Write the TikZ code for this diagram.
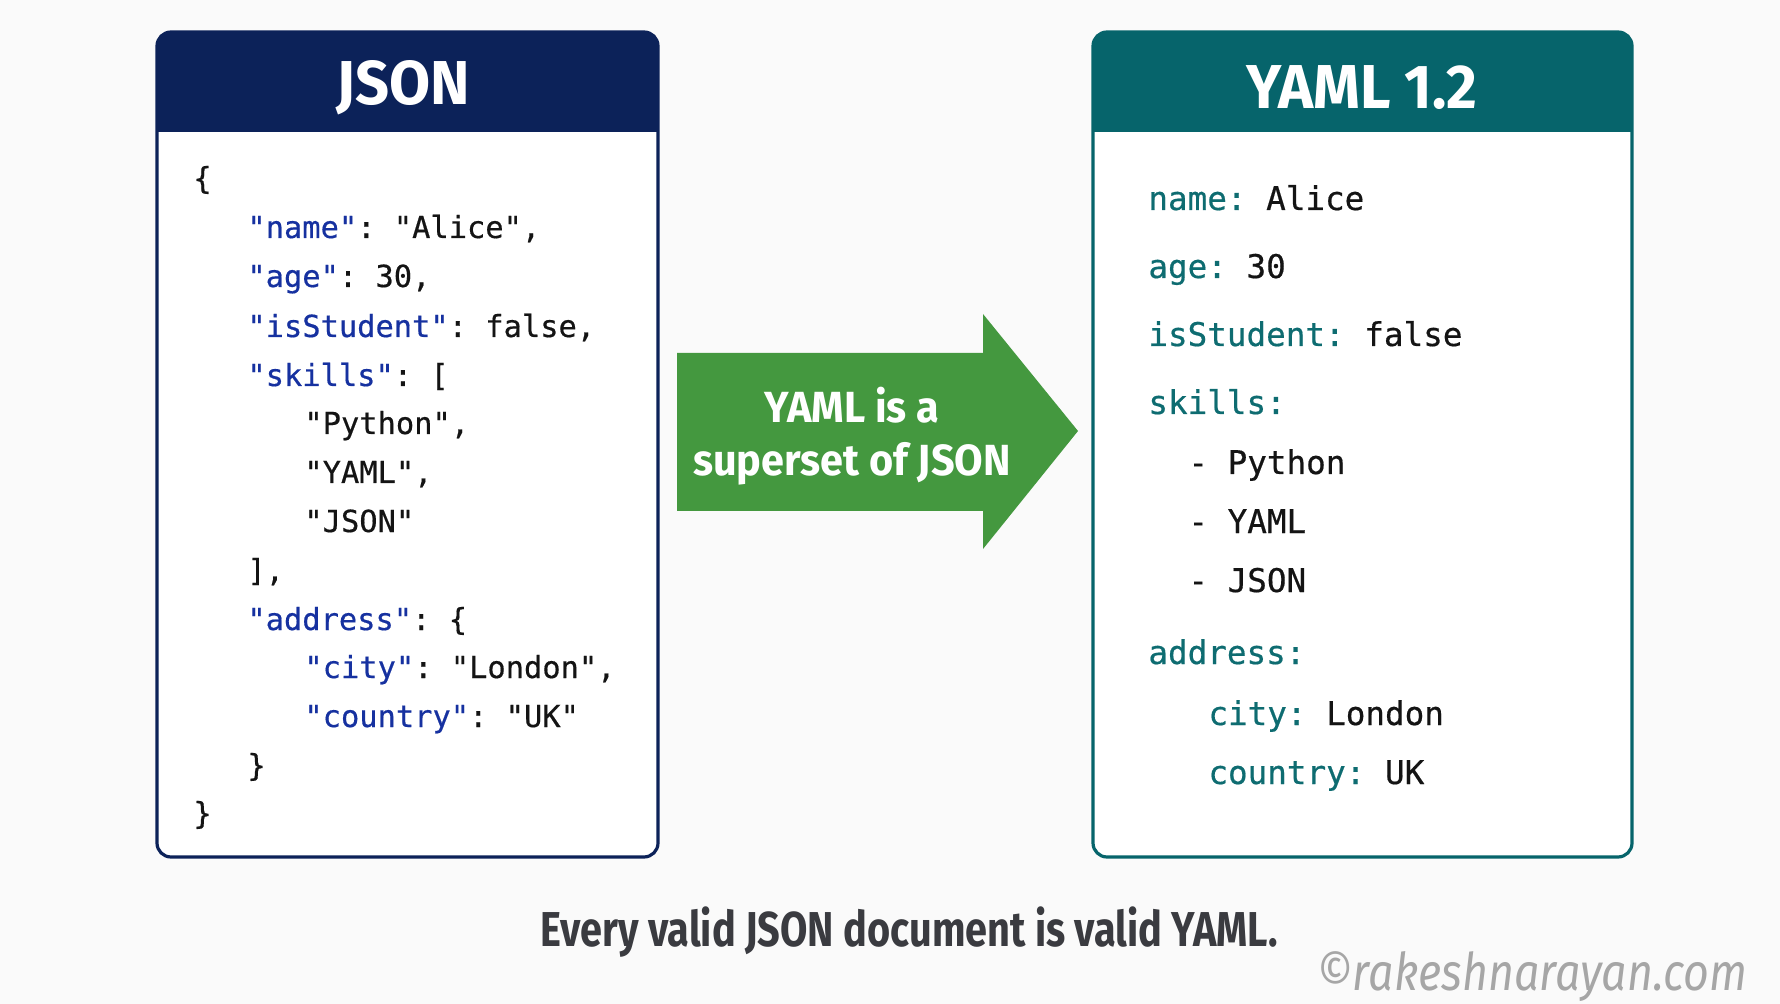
\documentclass[tikz,border=0pt]{standalone}
\usepackage{fontspec}
\setmainfont{Fira Sans}
\setmonofont[FakeBold=0.5]{DejaVu Sans Mono}
\newfontfamily\titlefont[FakeStretch=0.96]{Fira Sans}
\newfontfamily\arrowfont[FakeStretch=0.95]{Fira Sans}
\newfontfamily\capfont[FakeStretch=0.81]{Fira Sans}
\newfontfamily\wmfont[FakeStretch=0.86]{Fira Sans}
\definecolor{bg}{HTML}{FAFAFA}
\definecolor{navy}{HTML}{0C2259}
\definecolor{teal}{HTML}{06646B}
\definecolor{jkey}{HTML}{1631A0}
\definecolor{ykey}{HTML}{0E6C71}
\definecolor{val}{HTML}{141414}
\definecolor{grn}{HTML}{44983F}
\definecolor{captxt}{HTML}{3A3B40}
\definecolor{wm}{HTML}{A6A6A6}
\newcommand\jk[1]{\textcolor{jkey}{#1}}
\newcommand\yk[1]{\textcolor{ykey}{#1}}
\tikzset{
  x=0.5pt, y=-0.5pt,
  jline/.style={anchor=base west, inner sep=0pt, text=val, font=\ttfamily\fontsize{15.2}{18}\selectfont},
  yline/.style={anchor=base west, inner sep=0pt, text=val, font=\ttfamily\fontsize{16.3}{19}\selectfont},
  title/.style={inner sep=0pt, text=white, font=\titlefont\bfseries\fontsize{31}{36}\selectfont},
  panel/.style={line width=1.6pt, rounded corners=7pt},
}
\begin{document}
\begin{tikzpicture}
\fill[bg] (0,0) rectangle (1780,1004);
\useasboundingbox (0,0) rectangle (1780,1004);

% JSON panel
\fill[white, rounded corners=7pt] (157,32) rectangle (658,857);
\begin{scope}
  \clip (140,20) rectangle (680,132);
  \fill[navy, rounded corners=7pt] (157,32) rectangle (658,857);
\end{scope}
\draw[panel, navy] (157,32) rectangle (658,857);
\node[title] (jtitle) at (403,88) {JSON};

% YAML panel
\fill[white, rounded corners=7pt] (1093,32) rectangle (1632,857);
\begin{scope}
  \clip (1080,20) rectangle (1650,132);
  \fill[teal, rounded corners=7pt] (1093,32) rectangle (1632,857);
\end{scope}
\draw[panel, teal] (1093,32) rectangle (1632,857);
\node[title] (ytitle) at (1362,88) {YAML 1.2};

% JSON code
\node[jline] (j1) at (193,189) {\{};
\node[jline] (j2) at (247,238) {\jk{"name"}: "Alice",};
\node[jline] (j3) at (247,287) {\jk{"age"}: 30,};
\node[jline] (j4) at (247,337) {\jk{"isStudent"}: false,};
\node[jline] (j5) at (247,386) {\jk{"skills"}: [};
\node[jline] (j6) at (304,434) {"Python",};
\node[jline] (j7) at (304,483) {"YAML",};
\node[jline] (j8) at (304,532) {"JSON"};
\node[jline] (j9) at (247,581) {],};
\node[jline] (j10) at (247,630) {\jk{"address"}: \{};
\node[jline] (j11) at (304,678) {\jk{"city"}: "London",};
\node[jline] (j12) at (304,727) {\jk{"country"}: "UK"};
\node[jline] (j13) at (247,776) {\}};
\node[jline] (j14) at (193,824) {\}};

% YAML code
\node[yline] (y1) at (1148,210) {\yk{name:} Alice};
\node[yline] (y2) at (1148,278) {\yk{age:} 30};
\node[yline] (y3) at (1148,346) {\yk{isStudent:} false};
\node[yline] (y4) at (1148,414) {\yk{skills:}};
\node[yline] (y5) at (1188,474) {- Python};
\node[yline] (y6) at (1188,533) {- YAML};
\node[yline] (y7) at (1188,592) {- JSON};
\node[yline] (y8) at (1148,664) {\yk{address:}};
\node[yline] (y9) at (1208,725) {\yk{city:} London};
\node[yline] (y10) at (1208,784) {\yk{country:} UK};

% Arrow
\fill[grn] (677,353) -- (983,353) -- (983,314) -- (1078,431) -- (983,549) -- (983,511) -- (677,511) -- cycle;
\node[align=center, text=white, inner sep=0pt, font=\arrowfont\bfseries\fontsize{21.8}{26.5}\selectfont] (alabel) at (852,436) {YAML is a\\superset of JSON};

% Caption
\node[text=captxt, inner sep=0pt, font=\capfont\bfseries\fontsize{24.5}{28}\selectfont] (caption) at (909,932) {Every valid JSON document is valid YAML.};

% Watermark
\node[text=wm, inner sep=0pt, anchor=east, font=\wmfont\itshape\fontsize{26}{30}\selectfont] (wmark) at (1748,977) {©rakeshnarayan.com};
\end{tikzpicture}
\end{document}
